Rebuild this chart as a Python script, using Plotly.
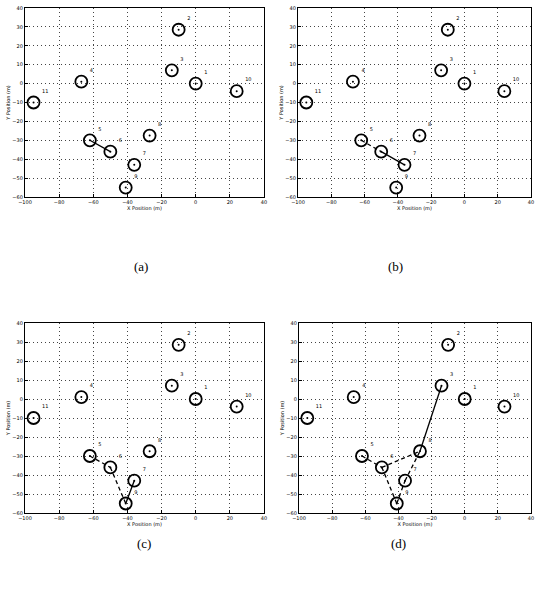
import plotly.graph_objects as go

# Node data
node_ids = ["1", "2", "3", "4", "5", "6", "7", "8", "9", "10", "11"]
node_x = [0, -10, -14, -67, -62, -50, -36, -27, -41, 24, -95]
node_y = [0, 28.5, 7, 1, -30, -36, -43, -27.5, -55, -4, -10]

x_ticks = [-100, -80, -60, -40, -20, 0, 20, 40]
y_ticks = [-60, -50, -40, -30, -20, -10, 0, 10, 20, 30, 40]

panel_names = ["(a)", "(b)", "(c)", "(d)"]
# edges per panel: (from, to, style)
panel_edges = [
    [("5", "6", "solid")],
    [("5", "6", "dash"), ("6", "7", "solid")],
    [("5", "6", "dash"), ("6", "9", "dash"), ("9", "7", "solid")],
    [("5", "6", "dash"), ("6", "9", "dash"), ("9", "7", "dash"),
     ("7", "8", "dash"), ("6", "8", "dash"), ("8", "3", "solid")],
]

W, H = 537, 589
# plot-area pixel boxes (left, right, top, bottom)
boxes = [(25, 264, 8, 197), (298, 531, 8, 197), (25, 264, 323, 513), (299, 531, 323, 513)]
caption_pos = [(132, 267), (405, 267), (135, 553), (408, 553)]

fig = go.Figure()
layout = dict(width=W, height=H, margin=dict(l=0, r=0, t=0, b=0),
              paper_bgcolor="white", plot_bgcolor="white", showlegend=False,
              font=dict(family="DejaVu Sans", color="black"))
annotations = []
idx = {n: i for i, n in enumerate(node_ids)}

for p in range(4):
    xa = "x" if p == 0 else f"x{p+1}"
    ya = "y" if p == 0 else f"y{p+1}"
    l, r, t, b = boxes[p]
    axcommon = dict(showline=True, linecolor="black", linewidth=1.3, mirror=True,
                    showgrid=True, gridcolor="#444444", griddash="1px,3px", gridwidth=0.8,
                    ticks="inside", ticklen=3, tickcolor="black", automargin=False,
                    ticklabeloverflow="allow",
                    tickfont=dict(size=5, color="black"), zeroline=False)
    layout["xaxis" if p == 0 else f"xaxis{p+1}"] = dict(
        axcommon, domain=[l / W, r / W], range=[-100, 40], tickvals=x_ticks,
        anchor=ya, title=dict(text="X Position (m)", font=dict(size=5), standoff=1))
    layout["yaxis" if p == 0 else f"yaxis{p+1}"] = dict(
        axcommon, domain=[1 - b / H, 1 - t / H], range=[-60, 40], tickvals=y_ticks,
        anchor=xa, title=dict(text="Y Position (m)", font=dict(size=5), standoff=1))

    for a, bn, style in panel_edges[p]:
        fig.add_trace(go.Scatter(
            x=[node_x[idx[a]], node_x[idx[bn]]], y=[node_y[idx[a]], node_y[idx[bn]]],
            mode="lines", line=dict(color="black", width=1.3,
                                    dash="solid" if style == "solid" else "4px,3px"),
            xaxis=xa, yaxis=ya, hoverinfo="skip"))
    fig.add_trace(go.Scatter(
        x=node_x, y=node_y, mode="markers+text", text=node_ids,
        textposition="top right", textfont=dict(size=5, color="black"),
        marker=dict(symbol="circle-open", size=12, line=dict(color="black", width=1.8), color="black"),
        xaxis=xa, yaxis=ya))
    fig.add_trace(go.Scatter(
        x=node_x, y=node_y, mode="markers",
        marker=dict(symbol="circle", size=2, color="black"),
        xaxis=xa, yaxis=ya, hoverinfo="skip"))
    cx, cy = caption_pos[p]
    annotations.append(dict(text=panel_names[p], x=cx / W, y=1 - cy / H, xref="paper", yref="paper",
                            showarrow=False, font=dict(family="Liberation Serif", size=13, color="black")))

layout["annotations"] = annotations
fig.update_layout(**layout)
fig.write_html("out.html", config={"displayModeBar": False},
               post_script="document.body.style.margin='0px';document.body.style.overflow='hidden';")
